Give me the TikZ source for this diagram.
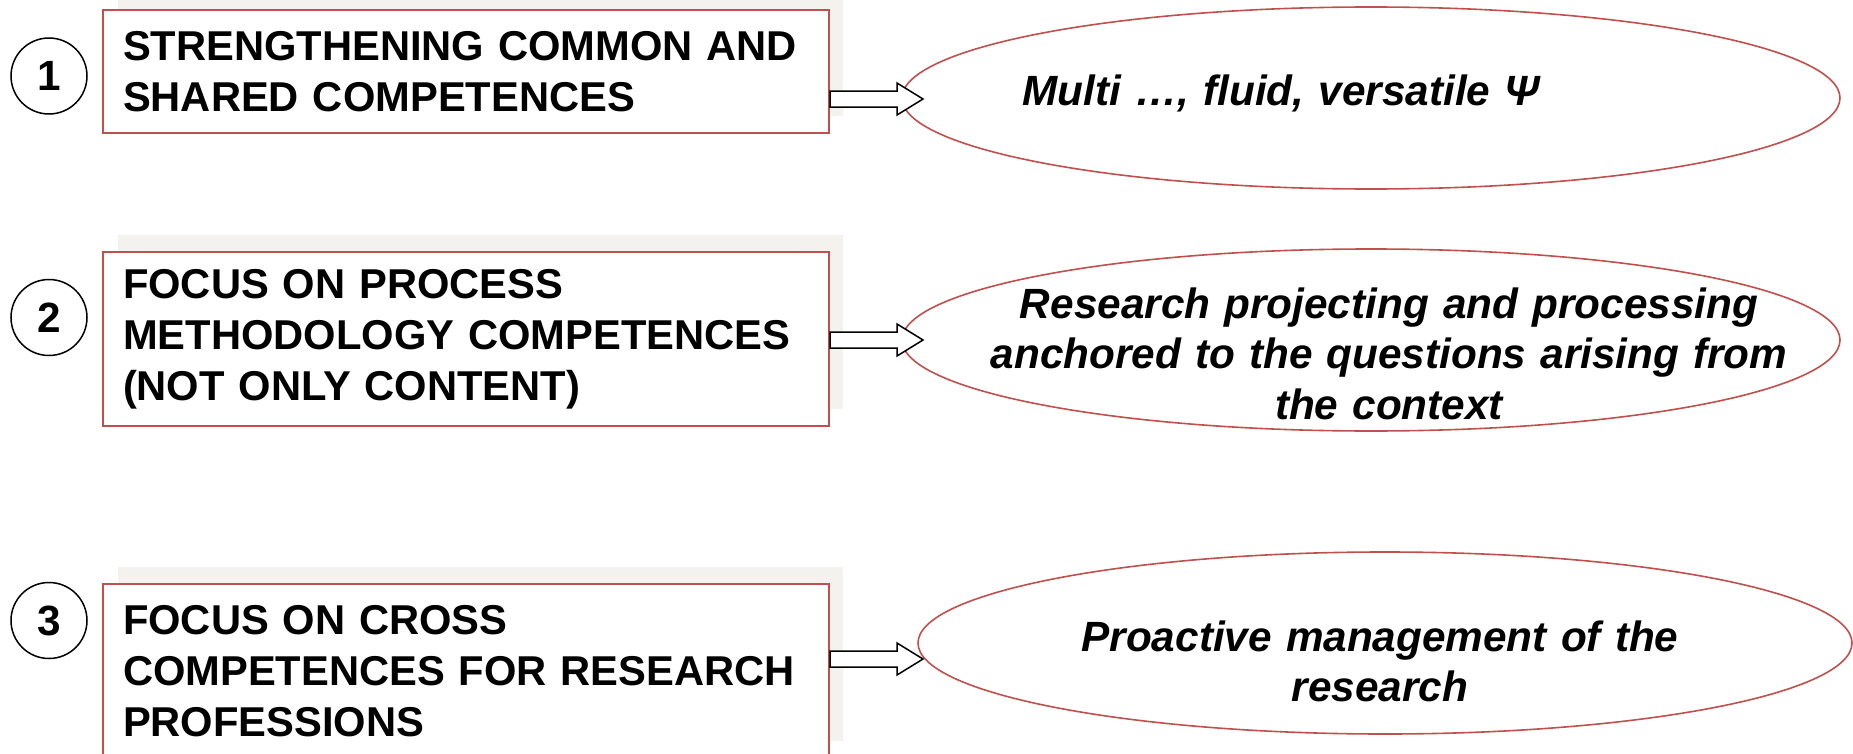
\documentclass[tikz,border=0pt]{standalone}
\usepackage{fontspec}
\setmainfont{Liberation Sans}
\usetikzlibrary{calc,shapes.geometric}
\definecolor{boxred}{HTML}{C0504D}
\definecolor{shadowgrey}{HTML}{F3F2EE}
\tikzset{
  boxnode/.style={draw=boxred, line width=2bp, fill=white, rectangle, anchor=north west,
    minimum width=725bp, text width=686bp, inner xsep=20bp, inner ysep=0bp, align=left,
    font=\fontsize{41.7bp}{51bp}\selectfont\bfseries},
  numnode/.style={draw=black, line width=1.5bp, circle, minimum size=76bp, inner sep=0bp,
    font=\fontsize{42.3bp}{51bp}\selectfont\bfseries},
  ovalnode/.style={draw=boxred, line width=1.6bp, ellipse, minimum width=938bp, minimum height=182bp, inner sep=0bp},
  ovaltext/.style={anchor=base, text width=900bp, align=center, inner sep=0bp,
    font=\fontsize{42.3bp}{50.5bp}\selectfont\bfseries\itshape},
  blockarr/.style={draw=black, line width=1.5bp, fill=white, line join=miter},
  shadowfill/.style={fill=shadowgrey}
}
\begin{document}
\begin{tikzpicture}[x=1bp,y=-1bp]
\clip (0,0) rectangle (1853,754);
\fill[white] (0,0) rectangle (1853,754);

% box anchors (top-left corners)
\coordinate (p1) at (102,9);
\coordinate (p2) at (102,251);
\coordinate (p3) at (102,583);

% shadows behind boxes
\fill[shadowfill] ($(p1)+(16,-16)$) rectangle ($(p1)+(741,107)$);
\fill[shadowfill] ($(p2)+(16,-16)$) rectangle ($(p2)+(741,158)$);
\fill[shadowfill] ($(p3)+(16,-16)$) rectangle ($(p3)+(741,158)$);

% boxes
\node[boxnode, minimum height=123bp] (b1) at (p1) {STRENGTHENING COMMON AND\\SHARED COMPETENCES};
\node[boxnode, minimum height=174bp] (b2) at (p2) {FOCUS ON PROCESS\\METHODOLOGY COMPETENCES\\(NOT ONLY CONTENT)};
\node[boxnode, minimum height=174bp] (b3) at (p3) {FOCUS ON CROSS\\COMPETENCES FOR RESEARCH\\PROFESSIONS};

% numbers
\node[numnode] (c1) at (49,76) {1};
\node[numnode] (c2) at (49,317.5) {2};
\node[numnode] (c3) at (49,620.5) {3};

% ellipses
\node[ovalnode] (e1) at (1371,98) {};
\node[ovalnode] (e2) at (1371,340) {};
\node[ovalnode, minimum width=934bp] (e3) at (1385,643) {};

\node[ovaltext] (t1) at (1281,105) {Multi …, fluid, versatile Ψ};
\node[ovaltext] (t2) at (1389,318) {Research projecting and processing\\anchored to the questions arising from\\the context};
\node[ovaltext] (t3) at (1380,651) {Proactive management of the\\research};

% block arrows
\coordinate (a1) at (b1.east |- 0,99);
\coordinate (a2) at (b2.east |- 0,340);
\coordinate (a3) at (b3.east |- 0,659);
\foreach \a in {a1,a2,a3}{
  \draw[blockarr] (\a) ++(0,-8) -- ++(67,0) -- ++(0,-8) -- ++(26,16) -- ++(-26,16) -- ++(0,-8) -- ++(-67,0) -- cycle;
}
\end{tikzpicture}
\end{document}
